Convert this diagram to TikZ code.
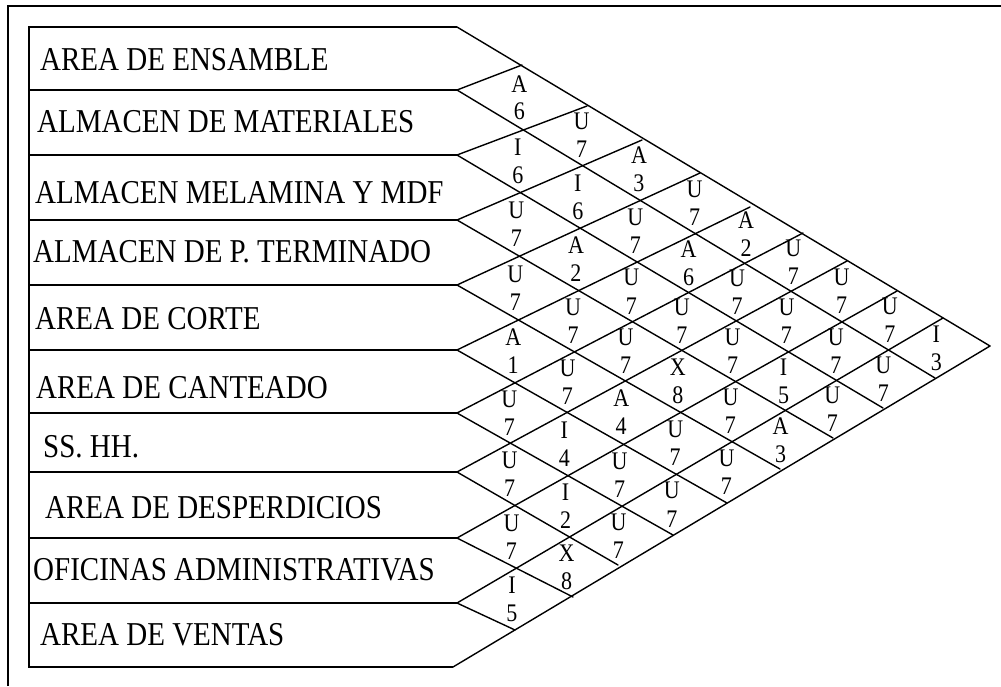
\documentclass[tikz,border=0pt]{standalone}
\usepackage{fontspec}
\usepackage{graphicx}
\setmainfont{Liberation Serif}
\usetikzlibrary{calc}
\newcommand{\vstretch}[1]{\scalebox{1}[1.15]{#1}}
\tikzset{
  dept/.style={inner sep=0pt, anchor=base west, font=\fontsize{29}{29}\selectfont},
  rel/.style={inner sep=0pt, font=\fontsize{22}{22}\selectfont},
  gridline/.style={line width=1.4pt, line cap=round},
  boxline/.style={line width=1.5pt},
}
\begin{document}
\begin{tikzpicture}[x=1pt,y=-1pt]
\useasboundingbox (0,0) rectangle (1001,686);
% outer frame
\coordinate (F1) at (8,686);
\coordinate (F2) at (8,6);
\coordinate (F3) at (1001,6);
\draw[boxline] (F1) -- (F2) -- (F3);
% left points of the grid
\foreach \k/\y in {0/27,1/90,2/155,3/220,4/285,5/350,6/413,7/472,8/538,9/603}
  {\coordinate (L\k) at (457,\y); \coordinate (R\k) at (29,\y);}
\coordinate (L10) at (453,667); \coordinate (R10) at (29,667);
% top edge vertices
\foreach \k/\x/\y in {0/457/27,1/522/65,2/587/106,3/642/140,4/700/173,5/750/207,
  6/803/233,7/847/261,8/897/291,9/943/318,10/990/346}
  {\coordinate (T\k) at (\x,\y);}
% bottom edge vertices
\foreach \k/\x/\y in {0/453/667,1/515/630,2/573/597,3/618/565,4/673/535,5/727/503,
  6/780/469,7/833/438,8/883/408,9/935/378,10/990/346}
  {\coordinate (B\k) at (\x,\y);}
% boxes
\draw[boxline] (L0) -- (R0) -- (R10) -- (L10);
\foreach \k in {1,...,9} {\draw[boxline] (R\k) -- (L\k);}
% grid lines
\foreach \p in {0,...,9} {
  \pgfmathtruncatemacro{\rr}{10-\p}
  \draw[gridline] (L\p) -- (B\rr);
}
\foreach \q in {1,...,10} {\draw[gridline] (T\q) -- (L\q);}
% vertices
\foreach \k in {0,...,10} {\coordinate (V-\k-\k) at (L\k);}
\foreach \p in {0,...,9} {
  \pgfmathtruncatemacro{\rr}{10-\p}
  \pgfmathtruncatemacro{\pp}{\p+1}
  \foreach \q in {\pp,...,10} {
    \edef\mytmp{\noexpand\coordinate (V-\p-\q) at (intersection of L\p--B\rr\space and L\q--T\q);}
    \mytmp
  }
}
% department names
\node[dept] (d1) at (40,70) {\vstretch{AREA DE ENSAMBLE}};
\node[dept] (d2) at (37,132) {\vstretch{ALMACEN DE MATERIALES}};
\node[dept] (d3) at (35,203) {\vstretch{ALMACEN MELAMINA Y MDF}};
\node[dept] (d4) at (33,262) {\vstretch{ALMACEN DE P. TERMINADO}};
\node[dept] (d5) at (35,329) {\vstretch{AREA DE CORTE}};
\node[dept] (d6) at (36,398) {\vstretch{AREA DE CANTEADO}};
\node[dept] (d7) at (43,457) {\vstretch{SS. HH.}};
\node[dept] (d8) at (45,518) {\vstretch{AREA DE DESPERDICIOS}};
\node[dept] (d9) at (33,580) {\vstretch{OFICINAS ADMINISTRATIVAS}};
\node[dept] (d10) at (40,645) {\vstretch{AREA DE VENTAS}};
% relationship labels
\foreach \i/\j/\l/\n in {1/2/A/6, 2/3/I/6, 3/4/U/7, 4/5/U/7, 5/6/A/1, 6/7/U/7, 7/8/U/7, 8/9/U/7, 9/10/I/5,
  1/3/U/7, 2/4/I/6, 3/5/A/2, 4/6/U/7, 5/7/U/7, 6/8/I/4, 7/9/I/2, 8/10/X/8,
  1/4/A/3, 2/5/U/7, 3/6/U/7, 4/7/U/7, 5/8/A/4, 6/9/U/7, 7/10/U/7,
  1/5/U/7, 2/6/A/6, 3/7/U/7, 4/8/X/8, 5/9/U/7, 6/10/U/7,
  1/6/A/2, 2/7/U/7, 3/8/U/7, 4/9/U/7, 5/10/U/7,
  1/7/U/7, 2/8/U/7, 3/9/I/5, 4/10/A/3,
  1/8/U/7, 2/9/U/7, 3/10/U/7,
  1/9/U/7, 2/10/U/7,
  1/10/I/3} {
  \pgfmathtruncatemacro{\im}{\i-1}
  \pgfmathtruncatemacro{\jm}{\j-1}
  \coordinate (C-\i-\j) at ($0.25*(V-\im-\jm)+0.25*(V-\i-\jm)+0.25*(V-\im-\j)+0.25*(V-\i-\j)+(-3,0)$);
  \node[rel, yshift=14pt] (cl-\i-\j) at (C-\i-\j) {\vstretch{\l}};
  \node[rel, yshift=-14pt] (cn-\i-\j) at (C-\i-\j) {\vstretch{\n}};
}
\end{tikzpicture}
\end{document}
